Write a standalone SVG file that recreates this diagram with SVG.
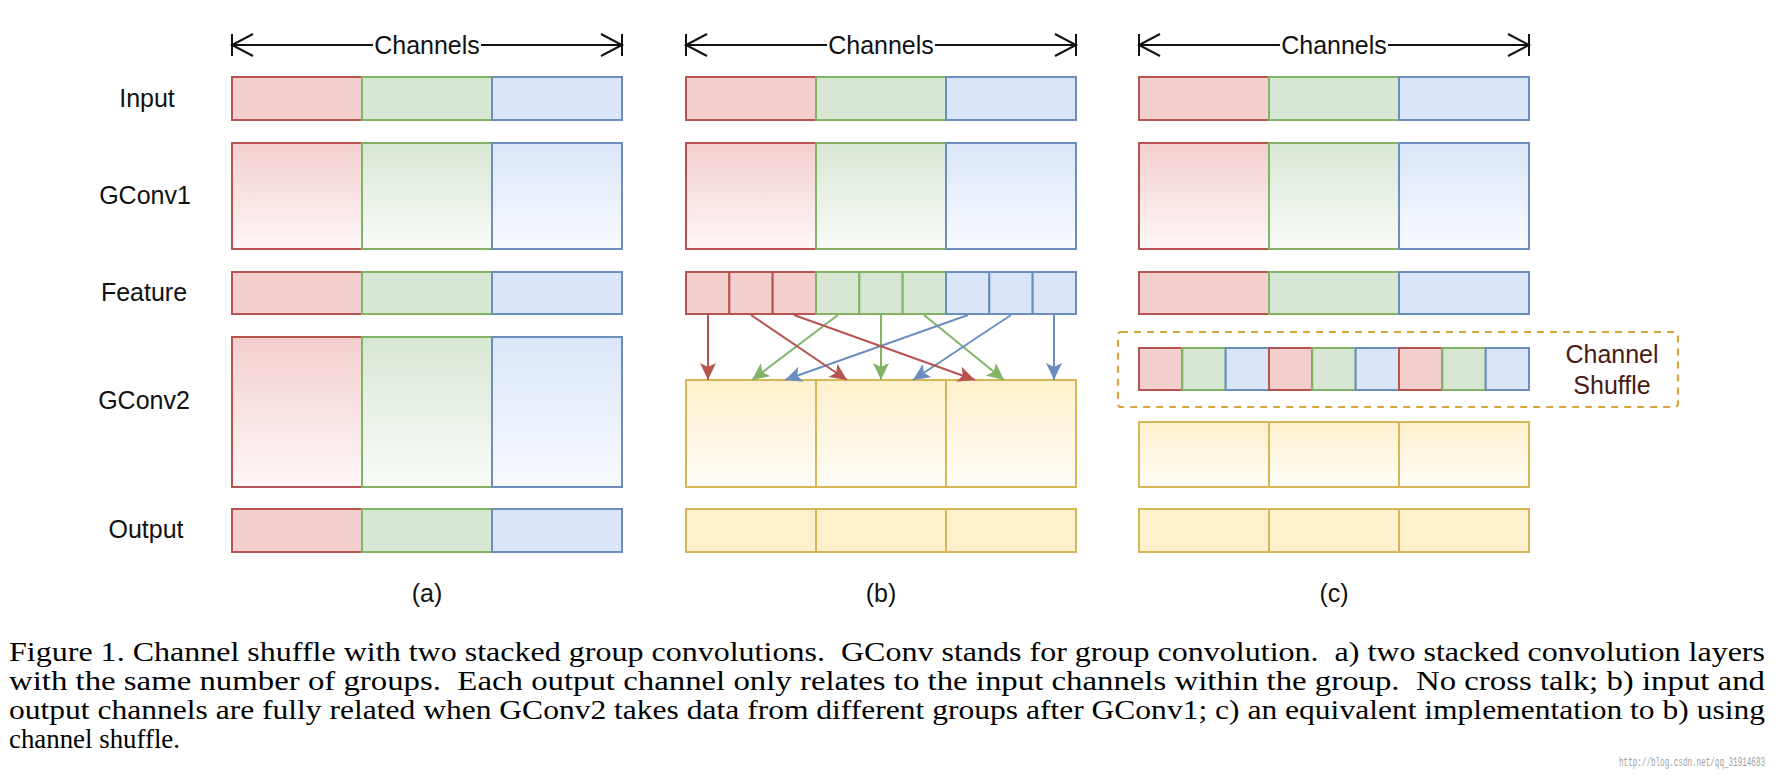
<svg xmlns="http://www.w3.org/2000/svg" width="1778" height="784" viewBox="0 0 1778 784">
<defs>
<linearGradient id="gR" x1="0" y1="0" x2="0" y2="1"><stop offset="0" stop-color="#f3cfce"/><stop offset="1" stop-color="#fdf7f7"/></linearGradient>
<linearGradient id="gG" x1="0" y1="0" x2="0" y2="1"><stop offset="0" stop-color="#d8e7d4"/><stop offset="1" stop-color="#f9fbf8"/></linearGradient>
<linearGradient id="gB" x1="0" y1="0" x2="0" y2="1"><stop offset="0" stop-color="#dae6f8"/><stop offset="1" stop-color="#f8fafe"/></linearGradient>
<linearGradient id="gY" x1="0" y1="0" x2="0" y2="1"><stop offset="0" stop-color="#fdf0cc"/><stop offset="1" stop-color="#fffdf8"/></linearGradient>
<marker id="mR" markerUnits="userSpaceOnUse" markerWidth="20" markerHeight="18" refX="17" refY="8" orient="auto"><path d="M0,0 L17,8 L0,16 L4,8 Z" fill="#b85450"/></marker>
<marker id="mG" markerUnits="userSpaceOnUse" markerWidth="20" markerHeight="18" refX="17" refY="8" orient="auto"><path d="M0,0 L17,8 L0,16 L4,8 Z" fill="#82b366"/></marker>
<marker id="mB" markerUnits="userSpaceOnUse" markerWidth="20" markerHeight="18" refX="17" refY="8" orient="auto"><path d="M0,0 L17,8 L0,16 L4,8 Z" fill="#6c8ebf"/></marker>
<style>
.r{fill:#f3cfce;stroke:#b85450;stroke-width:2}
.g{fill:#d8e7d4;stroke:#82b366;stroke-width:2}
.b{fill:#dae6f8;stroke:#6c8ebf;stroke-width:2}
.y{fill:#fdf0cc;stroke:#d6b656;stroke-width:2}
.rg{fill:url(#gR);stroke:#b85450;stroke-width:2}
.gg{fill:url(#gG);stroke:#82b366;stroke-width:2}
.bg{fill:url(#gB);stroke:#6c8ebf;stroke-width:2}
.yg{fill:url(#gY);stroke:#d6b656;stroke-width:2}
.lbl{font-family:"Liberation Sans",Arial,sans-serif;font-size:25px;fill:#111;text-anchor:middle}
.cap{font-family:"Liberation Serif","Times New Roman",serif;font-size:28px;fill:#000}
.ch{stroke:#111;stroke-width:2;fill:none}
.cr{stroke:#b85450;stroke-width:2;fill:none;marker-end:url(#mR)}
.cg{stroke:#82b366;stroke-width:2;fill:none;marker-end:url(#mG)}
.cb{stroke:#6c8ebf;stroke-width:2;fill:none;marker-end:url(#mB)}
</style>
</defs>
<rect x="0" y="0" width="1778" height="784" fill="#ffffff"/>

<g id="row-labels">
<text class="lbl" x="147" y="107">Input</text>
<text class="lbl" x="145" y="204">GConv1</text>
<text class="lbl" x="144" y="301">Feature</text>
<text class="lbl" x="144" y="409">GConv2</text>
<text class="lbl" x="146" y="538">Output</text>
</g>

<g id="channels-a">
<path class="ch" d="M232,34 V56 M253,34 L232,45 L253,56 M232,45 H373 M481,45 H622 M622,34 V56 M601,34 L622,45 L601,56"/>
<text class="lbl" x="427" y="54">Channels</text>
</g>
<g id="channels-b">
<path class="ch" d="M686,34 V56 M707,34 L686,45 L707,56 M686,45 H827 M935,45 H1076 M1076,34 V56 M1055,34 L1076,45 L1055,56"/>
<text class="lbl" x="881" y="54">Channels</text>
</g>
<g id="channels-c">
<path class="ch" d="M1139,34 V56 M1160,34 L1139,45 L1160,56 M1139,45 H1280 M1388,45 H1529 M1529,34 V56 M1508,34 L1529,45 L1508,56"/>
<text class="lbl" x="1334" y="54">Channels</text>
</g>

<g id="a-input"><rect class="r" x="232" y="77" width="130" height="43"/><rect class="g" x="362" y="77" width="130" height="43"/><rect class="b" x="492" y="77" width="130" height="43"/></g>
<g id="a-gconv1"><rect class="rg" x="232" y="143" width="130" height="106"/><rect class="gg" x="362" y="143" width="130" height="106"/><rect class="bg" x="492" y="143" width="130" height="106"/></g>
<g id="a-feature"><rect class="r" x="232" y="272" width="130" height="42"/><rect class="g" x="362" y="272" width="130" height="42"/><rect class="b" x="492" y="272" width="130" height="42"/></g>
<g id="a-gconv2"><rect class="rg" x="232" y="337" width="130" height="150"/><rect class="gg" x="362" y="337" width="130" height="150"/><rect class="bg" x="492" y="337" width="130" height="150"/></g>
<g id="a-output"><rect class="r" x="232" y="509" width="130" height="43"/><rect class="g" x="362" y="509" width="130" height="43"/><rect class="b" x="492" y="509" width="130" height="43"/></g>

<g id="b-input"><rect class="r" x="686" y="77" width="130" height="43"/><rect class="g" x="816" y="77" width="130" height="43"/><rect class="b" x="946" y="77" width="130" height="43"/></g>
<g id="b-gconv1"><rect class="rg" x="686" y="143" width="130" height="106"/><rect class="gg" x="816" y="143" width="130" height="106"/><rect class="bg" x="946" y="143" width="130" height="106"/></g>
<g id="b-feature">
<rect class="r" x="686" y="272" width="43.33" height="42"/><rect class="r" x="729.33" y="272" width="43.33" height="42"/><rect class="r" x="772.67" y="272" width="43.33" height="42"/>
<rect class="g" x="816" y="272" width="43.33" height="42"/><rect class="g" x="859.33" y="272" width="43.33" height="42"/><rect class="g" x="902.67" y="272" width="43.33" height="42"/>
<rect class="b" x="946" y="272" width="43.33" height="42"/><rect class="b" x="989.33" y="272" width="43.33" height="42"/><rect class="b" x="1032.67" y="272" width="43.33" height="42"/>
</g>
<g id="b-gconv2"><rect class="yg" x="686" y="380" width="130" height="107"/><rect class="yg" x="816" y="380" width="130" height="107"/><rect class="yg" x="946" y="380" width="130" height="107"/></g>
<g id="b-output"><rect class="y" x="686" y="509" width="130" height="43"/><rect class="y" x="816" y="509" width="130" height="43"/><rect class="y" x="946" y="509" width="130" height="43"/></g>

<g id="c-input"><rect class="r" x="1139" y="77" width="130" height="43"/><rect class="g" x="1269" y="77" width="130" height="43"/><rect class="b" x="1399" y="77" width="130" height="43"/></g>
<g id="c-gconv1"><rect class="rg" x="1139" y="143" width="130" height="106"/><rect class="gg" x="1269" y="143" width="130" height="106"/><rect class="bg" x="1399" y="143" width="130" height="106"/></g>
<g id="c-feature"><rect class="r" x="1139" y="272" width="130" height="42"/><rect class="g" x="1269" y="272" width="130" height="42"/><rect class="b" x="1399" y="272" width="130" height="42"/></g>
<g id="c-channel-shuffle">
<rect x="1118" y="332" width="560" height="75" rx="3" fill="none" stroke="#dba53e" stroke-width="2.2" stroke-dasharray="7 6"/>
<rect class="r" x="1139" y="348" width="43.33" height="42"/><rect class="g" x="1182.33" y="348" width="43.33" height="42"/><rect class="b" x="1225.67" y="348" width="43.33" height="42"/>
<rect class="r" x="1269" y="348" width="43.33" height="42"/><rect class="g" x="1312.33" y="348" width="43.33" height="42"/><rect class="b" x="1355.67" y="348" width="43.33" height="42"/>
<rect class="r" x="1399" y="348" width="43.33" height="42"/><rect class="g" x="1442.33" y="348" width="43.33" height="42"/><rect class="b" x="1485.67" y="348" width="43.33" height="42"/>
<text class="lbl" x="1612" y="363" style="fill:#4a1a14">Channel</text>
<text class="lbl" x="1612" y="394" style="fill:#4a1a14">Shuffle</text>
</g>
<g id="c-gconv2"><rect class="yg" x="1139" y="422" width="130" height="65"/><rect class="yg" x="1269" y="422" width="130" height="65"/><rect class="yg" x="1399" y="422" width="130" height="65"/></g>
<g id="c-output"><rect class="y" x="1139" y="509" width="130" height="43"/><rect class="y" x="1269" y="509" width="130" height="43"/><rect class="y" x="1399" y="509" width="130" height="43"/></g>

<g id="connectors">
<path class="cg" d="M838,315 L752,380"/>
<path class="cg" d="M881,315 L881,380"/>
<path class="cg" d="M924,315 L1004,380"/>
<path class="cb" d="M968,315 L785,380"/>
<path class="cb" d="M1011,315 L913,380"/>
<path class="cb" d="M1054,315 L1054,380"/>
<path class="cr" d="M708,315 L708,380"/>
<path class="cr" d="M751,315 L847,380"/>
<path class="cr" d="M794,315 L975,380"/>
</g>

<g id="panel-labels">
<text class="lbl" x="427" y="602">(a)</text>
<text class="lbl" x="881" y="602">(b)</text>
<text class="lbl" x="1334" y="602">(c)</text>
</g>

<g id="caption">
<text class="cap" x="9" y="661" textLength="1756" lengthAdjust="spacingAndGlyphs" xml:space="preserve">Figure 1. Channel shuffle with two stacked group convolutions.  GConv stands for group convolution.  a) two stacked convolution layers</text>
<text class="cap" x="9" y="690" textLength="1756" lengthAdjust="spacingAndGlyphs" xml:space="preserve">with the same number of groups.  Each output channel only relates to the input channels within the group.  No cross talk; b) input and</text>
<text class="cap" x="9" y="719" textLength="1756" lengthAdjust="spacingAndGlyphs" xml:space="preserve">output channels are fully related when GConv2 takes data from different groups after GConv1; c) an equivalent implementation to b) using</text>
<text class="cap" x="9" y="748" textLength="171" lengthAdjust="spacingAndGlyphs">channel shuffle.</text>
<text x="1619" y="766" textLength="146" lengthAdjust="spacingAndGlyphs" style="font-family:'Liberation Mono','DejaVu Sans Mono',monospace;font-size:13px;fill:#a0a0a0">http://blog.csdn.net/qq_31914683</text>
</g>
</svg>
